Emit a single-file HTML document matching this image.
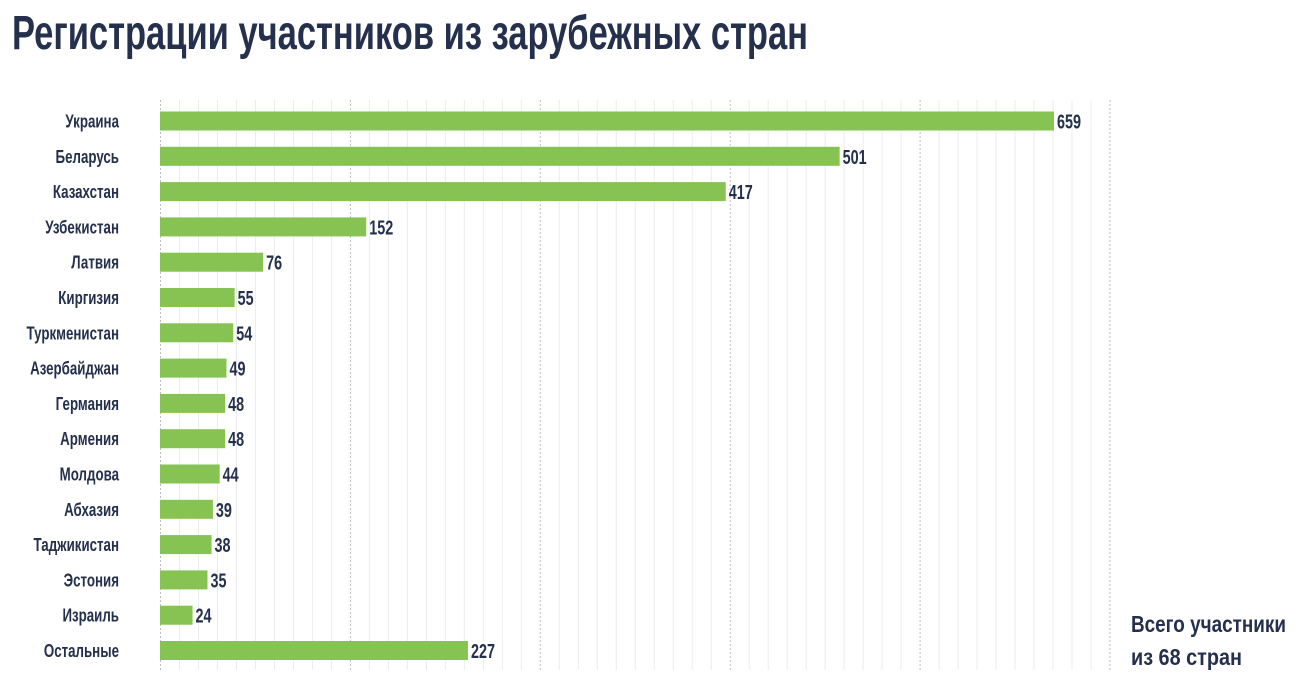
<!DOCTYPE html>
<html><head><meta charset="utf-8"><style>
html,body{margin:0;padding:0;background:#fff;width:1308px;height:688px;overflow:hidden}
text{font-family:"Liberation Sans",sans-serif;fill:#25304d}
</style></head><body>
<svg width="1308" height="688" xmlns="http://www.w3.org/2000/svg">
<text x="12" y="49" font-size="48" font-weight="bold" textLength="796" lengthAdjust="spacingAndGlyphs" fill="#1f2d4a">Регистрации участников из зарубежных стран</text>
<g id="grid"></g>
<g id="bars"></g>
<text x="1131" y="632" font-size="23" font-weight="bold" textLength="155" lengthAdjust="spacingAndGlyphs">Всего участники</text>
<text x="1131" y="665" font-size="23" font-weight="bold" textLength="111" lengthAdjust="spacingAndGlyphs">из 68 стран</text>
</svg>
<script>
var ns="http://www.w3.org/2000/svg";
var g=document.getElementById('grid'),b=document.getElementById('bars');
function el(p,t,a,txt){var e=document.createElementNS(ns,t);for(var k in a)e.setAttribute(k,a[k]);if(txt)e.textContent=txt;p.appendChild(e);return e;}
for(var k=0;k<=50;k++){var x=160.5+19*k*0.99947;var maj=k%10==0;
el(g,'line',{x1:x,x2:x,y1:100,y2:670,stroke:maj?'#bdbdbd':'#ececec','stroke-width':1,'stroke-dasharray':maj?'2,2':'none'});}
var d=[["Украина",659],["Беларусь",501],["Казахстан",417],["Узбекистан",152],["Латвия",76],["Киргизия",55],["Туркменистан",54],["Азербайджан",49],["Германия",48],["Армения",48],["Молдова",44],["Абхазия",39],["Таджикистан",38],["Эстония",35],["Израиль",24],["Остальные",227]];
var s=0.72;
d.forEach(function(r,i){var cy=121+i*35.3;var w=r[1]*1.3566;
el(b,'rect',{x:160,y:cy-9.5,width:w,height:19,fill:'#86c353'});
var gl=el(b,'g',{transform:'scale('+s+',1)'});
el(gl,'text',{x:119/s,y:cy+6.5,'font-size':18.5,'font-weight':'bold','text-anchor':'end'},r[0]);
el(gl,'text',{x:(160+w+3)/s,y:cy+7.5,'font-size':20,'font-weight':'bold'},String(r[1]));
});
</script>
</body></html>
